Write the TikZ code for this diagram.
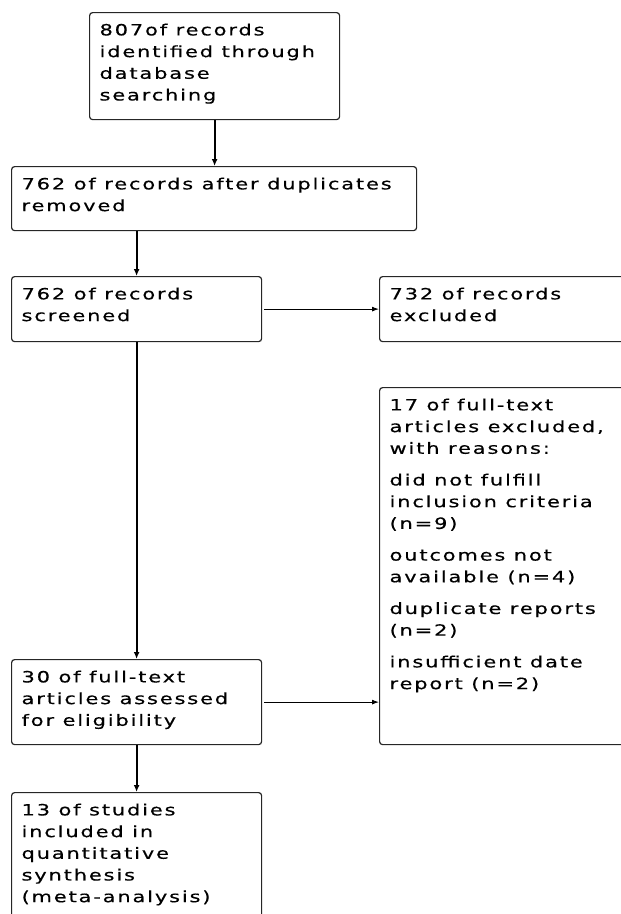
\documentclass[tikz,border=0pt]{standalone}
\usepackage{fontspec}
\setmainfont[FakeStretch=1.35,LetterSpace=12,FakeBold=0.4]{DejaVu Sans}
\usetikzlibrary{calc,arrows.meta}

% fixed-size text block, text at the top
\newcommand{\flowtext}[3]{\parbox[t][#2][t]{#1}{#3}}

\begin{document}
\begin{tikzpicture}
    [x=1pt,y=-1pt,
      every node/.style={font=\fontsize{15.5}{21.7}\selectfont},%
      box/.style={draw=black!85,line width=1.2pt,rounded corners=3pt,
        inner xsep=10pt,inner ysep=11pt,anchor=north west},%
      down/.style={-{Latex[length=7pt,width=6pt]},line width=2pt},%
      aside/.style={-{Latex[length=7pt,width=5pt]},line width=1pt}]
    \useasboundingbox (0,0) rectangle (621,914);
    \clip (0,0) rectangle (621,914);
    \node[box] (ident) at (89,12)
      {\flowtext{230pt}{85pt}{807of records\\identified through\\database\\searching}};
    \node[box] (dupl) at (11,166)
      {\flowtext{385pt}{42pt}{762 of records after duplicates\\removed}};
    \node[box] (screen) at (11,276)
      {\flowtext{230pt}{43pt}{762 of records\\screened}};
    \node[box] (excl) at (379,276)
      {\flowtext{241pt}{43pt}{732 of records\\excluded}};
    \node[box] (fullexcl) at (379,387)
      {\flowtext{241pt}{335pt}{17 of full-text\\articles excluded,\\with reasons:\\[10pt]
        did not fulfill\\inclusion criteria\\(n=9)\\[10pt]
        outcomes not\\available (n=4)\\[10pt]
        duplicate reports\\(n=2)\\[10pt]
        insufficient date\\report (n=2)}};
    \node[box] (assess) at (11,659)
      {\flowtext{230pt}{63pt}{30 of full-text\\articles assessed\\for eligibility}};
    \node[box] (incl) at (11,792)
      {\flowtext{230pt}{140pt}{13 of studies\\included in\\quantitative\\synthesis\\(meta-analysis)}};
    % connectors
    \draw[down] (ident.south) -- (dupl.north -| ident.south);
    \draw[down] (screen.north |- dupl.south) -- (screen.north);
    \draw[down] (screen.south) -- (assess.north);
    \draw[down] (assess.south) -- (incl.north);
    \draw[aside,shorten <=2pt] (screen.east) -- (excl.west |- screen.east);
    \draw[aside,shorten <=2pt] (assess.east) -- (fullexcl.west |- assess.east);
  \end{tikzpicture}
\end{document}
